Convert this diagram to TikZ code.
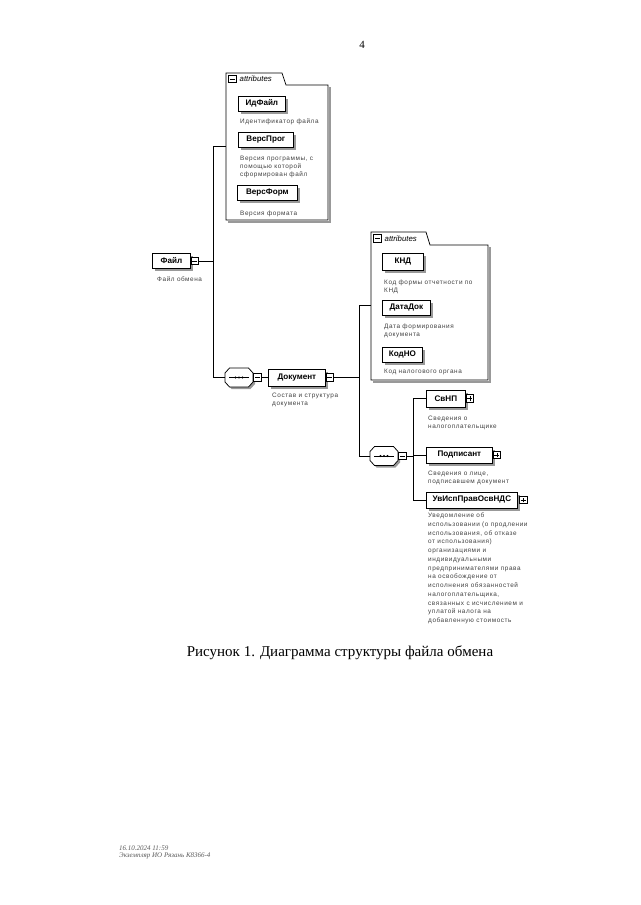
\documentclass[tikz,border=0pt]{standalone}
\usepackage{fontspec}
\setmainfont{Liberation Serif}
\newfontfamily\dfont{Liberation Sans}
\newfontfamily\descfont[LetterSpace=9]{Liberation Sans}
\usetikzlibrary{shadows,calc}
\tikzset{
  conn/.style={draw=black, line width=0.8pt},
  elem/.style={draw=black, line width=0.75pt, fill=white, anchor=west,
    minimum height=15pt, inner sep=1pt,
    font=\dfont\bfseries\fontsize{8.1}{9}\selectfont,
    drop shadow={shadow xshift=2.5pt, shadow yshift=-2.5pt, fill=black!40, opacity=1}},
  pmbox/.style={draw=black, line width=0.6pt, fill=white, minimum size=7.5pt, inner sep=0pt},
  minusbox/.style={pmbox, path picture={\draw[line width=0.6pt]
    ([xshift=1.4pt]path picture bounding box.west) -- ([xshift=-1.4pt]path picture bounding box.east);}},
  plusbox/.style={pmbox, path picture={\draw[line width=0.6pt]
    ([xshift=1.4pt]path picture bounding box.west) -- ([xshift=-1.4pt]path picture bounding box.east)
    ([yshift=1.4pt]path picture bounding box.south) -- ([yshift=-1.4pt]path picture bounding box.north);}},
  seqpic/.pic={
    \fill[black!40] (-12,-7.5) -- (-7.5,-7.5) -- (11.5,-7.5) -- (16,-2.5) -- (16,6.5) -- (11.5,11.5) -- (-7.5,11.5) -- (-12,6.5) -- cycle;
    \draw[line width=0.75pt, fill=white] (-14,-4.5) -- (-9.5,-9.5) -- (9.5,-9.5) -- (14,-4.5) -- (14,4.5) -- (9.5,9.5) -- (-9.5,9.5) -- (-14,4.5) -- cycle;
    \node[minimum width=28pt, minimum height=19pt, inner sep=0pt] (n) at (0,0) {};
    \draw[line width=0.7pt] (-10,0) -- (10,0);
    \fill (0,0) circle (1.2pt) (-3.5,0) circle (1.2pt) (3.5,0) circle (1.2pt);
  },
  desc/.style={anchor=north west, inner sep=0pt, align=left, text=black!75,
    font=\descfont\fontsize{6.4}{8.2}\selectfont},
  tabtxt/.style={anchor=west, inner sep=0pt, font=\dfont\itshape\fontsize{7.8}{9}\selectfont},
  container/.style={draw=black, line width=0.75pt},
  cshadow/.style={draw=black!40, line width=2pt}
}
\begin{document}
\begin{tikzpicture}[x=1pt,y=-1pt]
\useasboundingbox (0,0) rectangle (640,905);

% page number
\node (pg) at (362,45) {\fontsize{11}{13}\selectfont 4};

% ---------- attributes container 1 ----------
\draw[cshadow] (330,87) -- (330,222) -- (228,222);
\draw[container] (226,85) -- (226,73) -- (282,73) -- (286,85) -- (328,85) -- (328,220) -- (226,220) -- cycle;
\node[minusbox] (ma1) at (232.5,79) {};
\node[tabtxt] (ta1) at (239.5,79) {attributes};
\coordinate (a1w) at (226,146);

\node[elem, minimum width=47pt] (idf) at (238,103.5) {ИдФайл};
\node[desc] (didf) at (240,118.6) {Идентификатор файла};
\node[elem, minimum width=55pt] (vp) at (238,139.5) {ВерсПрог};
\node[desc] (dvp) at (240,155.6) {Версия программы, с\\помощью которой\\сформирован файл};
\node[elem, minimum width=60pt] (vf) at (237,192.5) {ВерсФорм};
\node[desc] (dvf) at (240,210.6) {Версия формата};

% ---------- root ----------
\node[elem, minimum width=38pt] (file) at (152,261) {Файл};
\node[minusbox, anchor=west] (mfile) at (file.east) {};
\node[desc] (dfile) at (157,276.6) {Файл обмена};

\coordinate (b1t) at (213,146);
\coordinate (b1b) at (213,377.5);
\draw[conn] (b1t) -- (b1b);
\draw[conn] (b1t) -- (a1w);
\draw[conn] (mfile.east) -- (mfile.east -| b1t);

% ---------- sequence 1 ----------
\pic (s1) at (239,377.5) {seqpic};
\node[minusbox, anchor=west] (ms1) at (s1n.east) {};
\draw[conn] (b1b) -- (s1n.west);

% ---------- Документ ----------
\node[elem, minimum width=57pt, minimum height=17pt] (doc) at (268,377.5) {Документ};
\node[minusbox, anchor=west] (mdoc) at (doc.east) {};
\node[desc] (ddoc) at (272,392.6) {Состав и структура\\документа};
\draw[conn] (ms1.east) -- (doc.west);

\coordinate (b2t) at (359,305);
\coordinate (b2b) at (359,456);
\draw[conn] (b2t) -- (b2b);
\draw[conn] (mdoc.east) -- (mdoc.east -| b2t);

% ---------- attributes container 2 ----------
\draw[cshadow] (490,247) -- (490,382) -- (373,382);
\draw[container] (371,245) -- (371,232) -- (426,232) -- (430,245) -- (488,245) -- (488,380) -- (371,380) -- cycle;
\node[minusbox] (ma2) at (377.5,238.5) {};
\node[tabtxt] (ta2) at (384.5,238.5) {attributes};
\coordinate (a2w) at (371,305);
\draw[conn] (b2t) -- (a2w);

\node[elem, minimum width=41pt, minimum height=17pt] (knd) at (382,261.5) {КНД};
\node[desc] (dknd) at (384,279.6) {Код формы отчетности по\\КНД};
\node[elem, minimum width=48pt] (dd) at (382,307.5) {ДатаДок};
\node[desc] (ddd) at (384,323.6) {Дата формирования\\документа};
\node[elem, minimum width=40pt] (kno) at (382,354.5) {КодНО};
\node[desc] (dkno) at (384,368.6) {Код налогового органа};

% ---------- sequence 2 ----------
\pic (s2) at (384,456) {seqpic};
\node[minusbox, anchor=west] (ms2) at (s2n.east) {};
\draw[conn] (b2b) -- (s2n.west);

\coordinate (b3t) at (413,398.5);
\coordinate (b3b) at (413,500);
\draw[conn] (b3t) -- (b3b);
\draw[conn] (ms2.east) -- (ms2.east -| b3t);

% ---------- children ----------
\node[elem, minimum width=39pt, minimum height=17pt] (svnp) at (426,398.5) {СвНП};
\node[plusbox, anchor=west] (psvnp) at (svnp.east) {};
\node[desc] (dsvnp) at (428,415.6) {Сведения о\\налогоплательщике};
\draw[conn] (b3t) -- (svnp.west);

\node[elem, minimum width=66pt, minimum height=16pt] (podp) at (426,455) {Подписант};
\node[plusbox, anchor=west] (ppodp) at (podp.east) {};
\node[desc] (dpodp) at (428,470.6) {Сведения о лице,\\подписавшем документ};
\draw[conn] (podp.west -| b3t) -- (podp.west);

\node[elem, minimum width=91pt, minimum height=16pt] (uv) at (426,500) {УвИспПравОсвНДС};
\node[plusbox, anchor=west] (puv) at ([xshift=1.5pt]uv.east) {};
\node[desc, font=\descfont\fontsize{6.4}{8.75}\selectfont] (duv) at (428,512.6) {Уведомление об\\использовании (о продлении\\использования, об отказе\\от использования)\\организациями и\\индивидуальными\\предпринимателями права\\на освобождение от\\исполнения обязанностей\\налогоплательщика,\\связанных с исчислением и\\уплатой налога на\\добавленную стоимость};
\draw[conn] (b3b) -- (uv.west);

% ---------- caption ----------
\node (cap) at (340,653) {\fontsize{15}{18}\selectfont Рисунок 1. Диаграмма структуры файла обмена};

% ---------- footer ----------
\node[anchor=base west, inner sep=0pt, text=black!65, font=\itshape\fontsize{7}{8}\selectfont] (f1) at (119,850) {16.10.2024 11:59};
\node[anchor=base west, inner sep=0pt, text=black!65, font=\itshape\fontsize{7}{8}\selectfont] (f2) at (119,857.5) {Экземпляр ИО Рязань К8366-4};
\end{tikzpicture}
\end{document}
